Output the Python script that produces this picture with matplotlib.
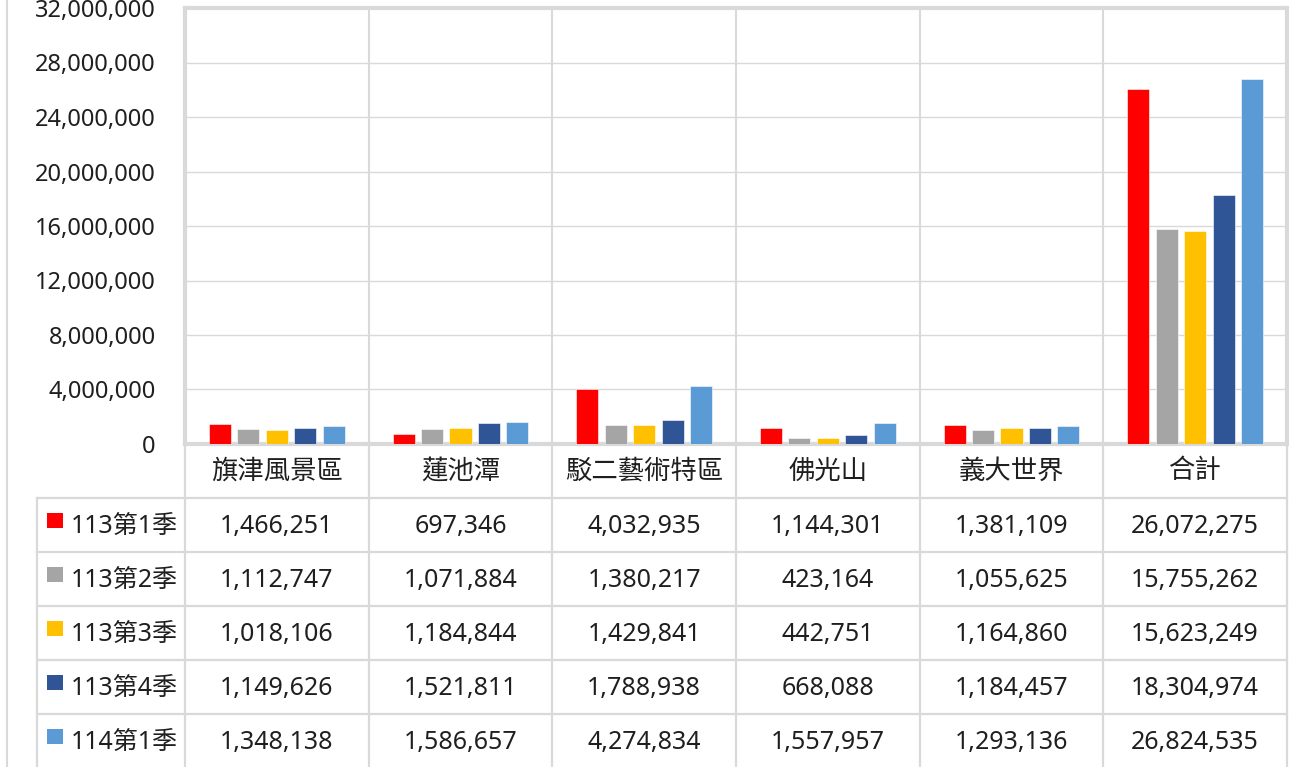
import matplotlib
matplotlib.use("Agg")
import matplotlib.pyplot as plt
from matplotlib.patches import Rectangle

plt.rcParams['font.family'] = ['Noto Sans', 'Noto Sans CJK TC', 'DejaVu Sans']

categories = ["旗津風景區", "蓮池潭", "駁二藝術特區", "佛光山", "義大世界", "合計"]
series_names = ["113第1季", "113第2季", "113第3季", "113第4季", "114第1季"]
q113_1 = [1466251, 697346, 4032935, 1144301, 1381109, 26072275]
q113_2 = [1112747, 1071884, 1380217, 423164, 1055625, 15755262]
q113_3 = [1018106, 1184844, 1429841, 442751, 1164860, 15623249]
q113_4 = [1149626, 1521811, 1788938, 668088, 1184457, 18304974]
q114_1 = [1348138, 1586657, 4274834, 1557957, 1293136, 26824535]
series = [q113_1, q113_2, q113_3, q113_4, q114_1]
colors = ["#FF0000", "#A5A5A5", "#FFC000", "#2F5597", "#5B9BD5"]
yticks = list(range(0, 32000001, 4000000))

W, H = 1289, 767
GRID = "#D9D9D9"
TXT = "#1f1f1f"

fig = plt.figure(figsize=(W / 100, H / 100), dpi=100)

# overlay for the data table (pixel coordinates)
tab = fig.add_axes([0, 0, 1, 1])
tab.set_xlim(0, W)
tab.set_ylim(H, 0)
tab.axis("off")

plot_left, plot_right, plot_top, plot_bottom = 185, 1287, 8, 444
col_w = (plot_right - plot_left) / len(categories)
row_h = 54
cat_row_bottom = plot_bottom + row_h
leg_left = 37

# outer chart frame
tab.plot([7, 7], [0, H], color=GRID, lw=1.5)

# table horizontal lines
for i in range(len(series_names)):
    y = cat_row_bottom + i * row_h
    tab.plot([leg_left, plot_right], [y, y], color=GRID, lw=1.6)
# table vertical lines
for j in range(len(categories) + 1):
    x = plot_left + j * col_w
    tab.plot([x, x], [plot_bottom, H], color=GRID, lw=1.6)
tab.plot([leg_left, leg_left], [cat_row_bottom, H], color=GRID, lw=1.6)

# category labels
for j, c in enumerate(categories):
    tab.text(plot_left + (j + 0.5) * col_w, plot_bottom + row_h / 2, c,
             ha="center", va="center", fontsize=19, color=TXT,
             family=['Noto Sans CJK TC', 'DejaVu Sans'])

# rows
for i, (name, vals, col) in enumerate(zip(series_names, series, colors)):
    yc = cat_row_bottom + (i + 0.5) * row_h
    tab.add_patch(Rectangle((47, yc - 12), 16, 15, color=col, lw=0))
    tab.text(71, yc + 1, name, ha="left", va="center", fontsize=18, color=TXT)
    for j, v in enumerate(vals):
        tab.text(plot_left + (j + 0.5) * col_w, yc + 2, f"{v:,}",
                 ha="center", va="center", fontsize=18, color=TXT)

# main bar chart
ax = fig.add_axes([plot_left / W, 1 - plot_bottom / H,
                   (plot_right - plot_left) / W, (plot_bottom - plot_top) / H])
ax.set_xlim(-0.5, len(categories) - 0.5)
ax.set_ylim(0, 32000000)

bw = 0.12
step = 0.155
for k, (vals, col) in enumerate(zip(series, colors)):
    xs = [j + (k - 2) * step for j in range(len(categories))]
    ax.bar(xs, vals, width=bw, color=col, edgecolor="white", linewidth=0.4, zorder=3)

ax.set_yticks(yticks)
ax.set_yticklabels([f"{t:,}" for t in yticks], fontsize=17, color=TXT)
ax.tick_params(axis="y", length=0, pad=21)
ax.set_xticks([])
for y in yticks[1:]:
    ax.axhline(y, color=GRID, lw=1, zorder=1)
for j in range(1, len(categories)):
    ax.axvline(j - 0.5, color=GRID, lw=1.5, zorder=1)
for s in ["top", "left", "right", "bottom"]:
    ax.spines[s].set_color(GRID)
    ax.spines[s].set_linewidth(3)
ax.set_facecolor("none")

fig.savefig("out.png", dpi=100)
